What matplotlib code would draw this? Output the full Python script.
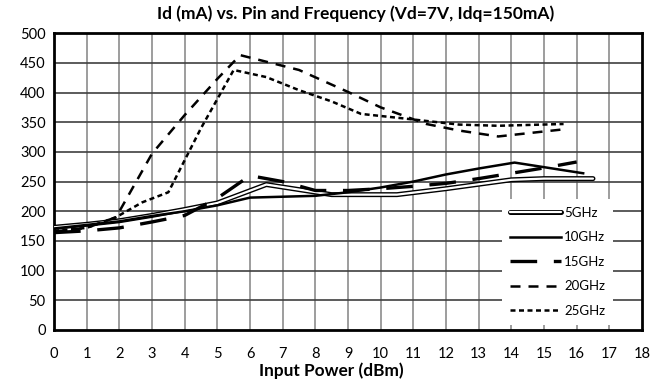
import matplotlib
matplotlib.use("Agg")
import matplotlib.pyplot as plt
import matplotlib.patheffects as pe

plt.rcParams['font.family'] = ['Lato', 'DejaVu Sans']

x5 = [0, 1, 2, 3, 4, 5, 6.5, 8.5, 10.5, 12, 14, 15, 16.5]
y5 = [173, 178, 184, 193, 203, 214, 245, 228, 228, 238, 253, 255, 255]

x10 = [0, 1, 2, 3, 4, 5, 6, 8, 9, 10, 11, 12, 13, 14.1, 16.2]
y10 = [171, 177, 183, 192, 200, 210, 223, 226, 232, 240, 250, 262, 272, 282, 264]

x15 = [0, 1, 2, 3, 4, 5, 6, 7, 8, 9, 10, 11, 12, 13, 14, 15, 16]
y15 = [164, 167, 172, 182, 193, 222, 260, 250, 235, 235, 238, 242, 247, 255, 264, 273, 283]

x20 = [0, 1, 1.9, 3, 4, 5, 5.7, 7.5, 9, 10, 11.4, 12.4, 13.6, 15.6]
y20 = [166, 172, 190, 297, 362, 423, 463, 438, 401, 375, 347, 336, 326, 338]

x25 = [0, 1, 1.9, 2.7, 3.5, 4.5, 5.5, 6.5, 7.5, 8.5, 9.4, 10.6, 12.4, 13.6, 15.6]
y25 = [167, 172, 190, 215, 232, 340, 438, 426, 404, 385, 364, 357, 346, 344, 347]

W, H = 654, 387
fig = plt.figure(figsize=(6.54, 3.87), dpi=100)
ax = fig.add_axes([0.0826, 0.1473, 0.899, 0.767])

ax.plot(x5, y5, color='white', lw=1.6, label='5GHz', solid_capstyle='round',
        path_effects=[pe.Stroke(linewidth=3.6, foreground='black'), pe.Normal()], zorder=5)
ax.plot(x10, y10, color='black', lw=1.8, label='10GHz', zorder=5)
ax.plot(x15, y15, color='black', lw=2.4, dashes=(8, 5), label='15GHz', zorder=5)
ax.plot(x20, y20, color='black', lw=1.8, dashes=(4, 3.2), label='20GHz', zorder=5)
ax.plot(x25, y25, color='black', lw=1.8, dashes=(2, 1.4), label='25GHz', zorder=5)

ax.set_xlim(0, 18)
ax.set_ylim(0, 500)
ax.set_xticks(range(0, 19))
ax.set_yticks(range(0, 501, 50))
for v in range(1, 18):
    ax.axvline(v, color='#8c8c8c', lw=1.2, zorder=1)
for v in range(50, 500, 50):
    ax.axhline(v, color='#404040', lw=1.2, zorder=1)
ax.tick_params(axis='both', length=0, labelsize=10.5)
ax.tick_params(axis='x', pad=12)
ax.tick_params(axis='y', pad=6)
for s in ax.spines.values():
    s.set_linewidth(2)
    s.set_color('black')


def fitted_text(s, cx, cy, target_w, fs0):
    t = fig.text(cx / W, 1 - cy / H, s, ha='center', va='center',
                 fontsize=fs0, fontweight='bold')
    r = fig.canvas.get_renderer()
    w = t.get_window_extent(r).width
    t.set_fontsize(fs0 * target_w / w)
    return t


fitted_text('Id (mA) vs. Pin and Frequency (Vd=7V, Idq=150mA)', 356, 14, 398, 10)
fitted_text('Input Power (dBm)', 331, 371, 145, 10)

leg = ax.legend(loc='lower right', bbox_to_anchor=(0.96, 0.0), frameon=True,
                fancybox=False, edgecolor='white', framealpha=1, fontsize=9.5,
                handlelength=3.9, labelspacing=0.95, borderpad=0.6,
                handletextpad=0.2, borderaxespad=0.4)
leg.get_frame().set_linewidth(0)
leg.set_zorder(10)

fig.savefig('out.png', dpi=100)
